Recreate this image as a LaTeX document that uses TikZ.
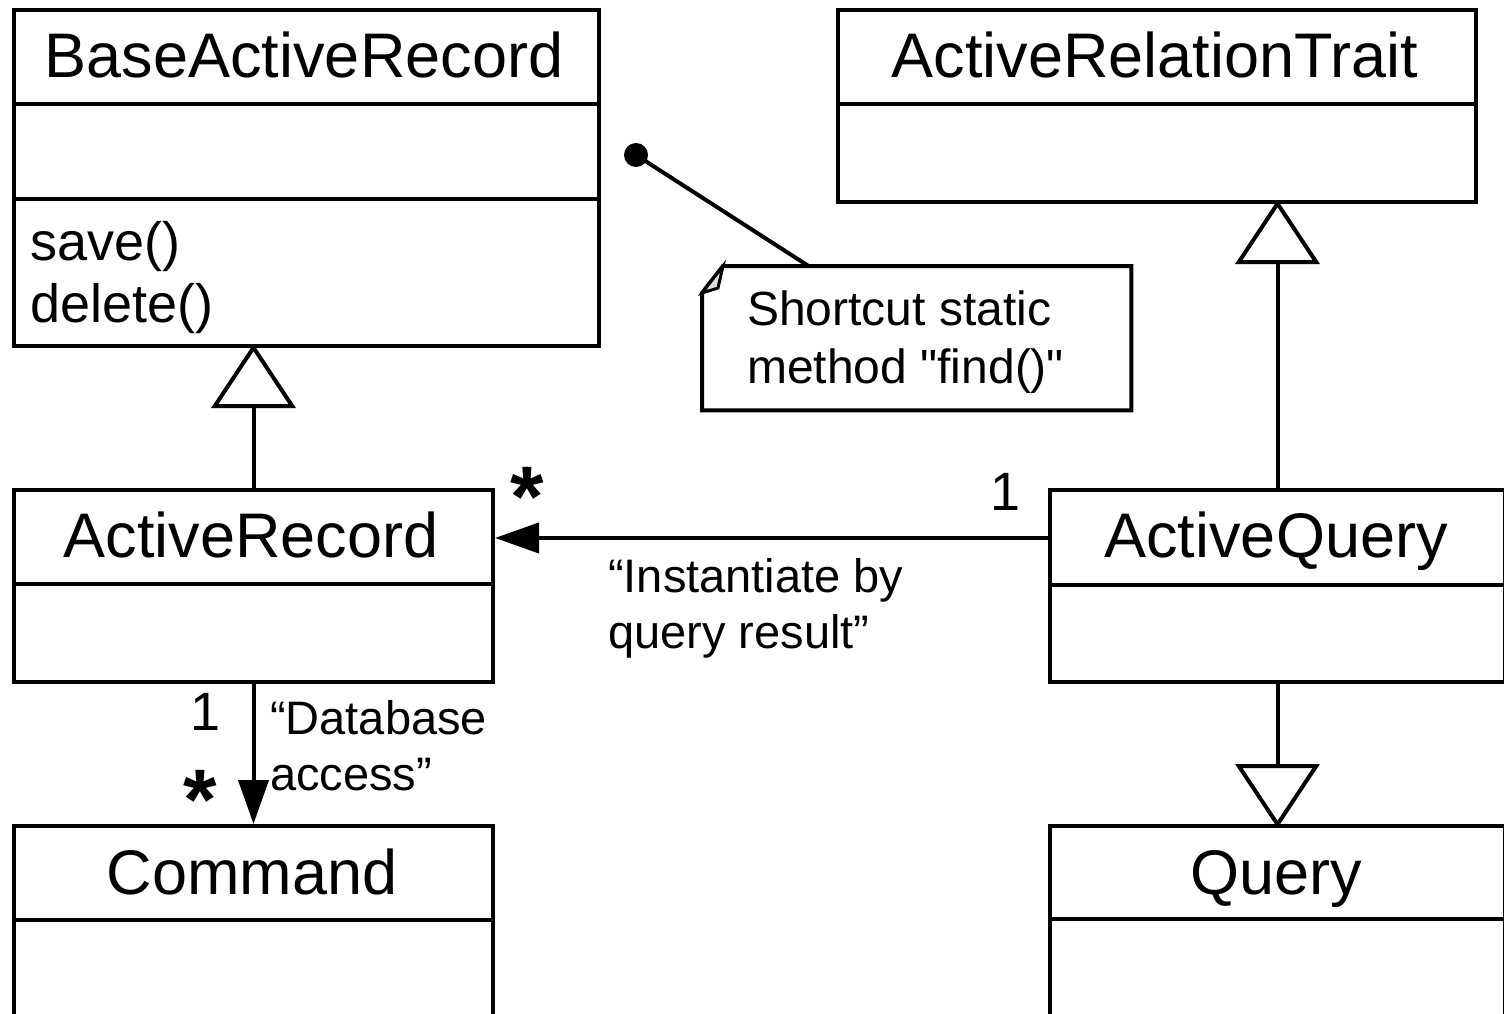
\documentclass[tikz,border=0pt]{standalone}
\usepackage{fontspec}
\setmainfont{Liberation Sans}[Ligatures=TeXOff]
\usetikzlibrary{arrows.meta,calc}
\begin{document}
\begin{tikzpicture}[x=1pt,y=-1pt,
  lw/.style={line width=4pt},
  box/.style={draw, line width=4pt, rectangle, inner sep=0pt, anchor=north west},
  title/.style={font=\fontsize{63}{70}\selectfont, anchor=base, inner sep=0pt},
  member/.style={font=\fontsize{54}{60}\selectfont, anchor=base west, inner sep=0pt},
  lbl/.style={font=\fontsize{47}{52}\selectfont, anchor=base west, inner sep=0pt},
  mult/.style={font=\fontsize{54}{60}\selectfont, anchor=base, inner sep=0pt},
  star/.style={font=\bfseries\fontsize{86}{86}\selectfont, anchor=base, inner sep=0pt},
  gen/.style={line width=4pt, shorten >=-4pt, -{Triangle[open, length=64pt, width=84pt]}},
  assoc/.style={line width=4pt, -{Triangle[length=44pt, width=30pt]}}
]
\path[use as bounding box] (0,0) rectangle (1504,1014);
\clip (0,0) rectangle (1504,1014);

% classes
\node[box, minimum width=585pt, minimum height=336pt] (bar) at (12,8) {};
\draw[lw] (12,104) -- (597,104);
\draw[lw] (12,199) -- (597,199);
\node[title] (bart) at (304,78) {BaseActiveRecord};
\node[member] (save) at (30,260) {save()};
\node[member] (del) at (30,322) {delete()};

\node[box, minimum width=638pt, minimum height=192pt] (art) at (836,8) {};
\draw[lw] (836,104) -- (1474,104);
\node[title] (artt) at (1155,78) {ActiveRelationTrait};

\node[box, minimum width=479pt, minimum height=192pt] (ar) at (12,488) {};
\draw[lw] (12,584) -- (491,584);
\node[title] (art2) at (251,557) {ActiveRecord};

\node[box, minimum width=455pt, minimum height=192pt] (aq) at (1048,488) {};
\draw[lw] (1048,585) -- (1503,585);
\node[title] (aqt) at (1276,557) {ActiveQuery};

\node[box, minimum width=479pt, minimum height=260pt] (cmd) at (12,824) {};
\draw[lw] (12,920) -- (491,920);
\node[title] (cmdt) at (252,894) {Command};

\node[box, minimum width=455pt, minimum height=260pt] (q) at (1048,824) {};
\draw[lw] (1048,919) -- (1503,919);
\node[title] (qt) at (1276,894) {Query};

% note
\node[anchor=north west, minimum width=429pt, minimum height=144pt, inner sep=0pt] (note) at (702,266) {};
\draw[lw, line join=miter] ($(note.north west)+(21,0)$) -- (note.north east) -- (note.south east) -- (note.south west) -- ($(note.north west)+(0,27)$) -- cycle;
\draw[line width=3pt, fill=gray!25] ($(note.north west)+(21,0)$) -- ($(note.north west)+(16,22)$) -- ($(note.north west)+(0,27)$) -- cycle;
\node[lbl, font=\fontsize{48}{52}\selectfont] (n1) at (747,325) {Shortcut static};
\node[lbl, font=\fontsize{48}{52}\selectfont] (n2) at (747,383) {method "find()"};
\node[circle, fill, inner sep=0pt, minimum size=24pt] (dot) at (636,155) {};
\draw[lw] (dot.center) -- ($(note.north west)!0.248!(note.north east)$);

% generalizations
\draw[gen] (ar.north) -- (ar.north |- bar.south);
\draw[gen] (aq.north) -- (aq.north |- art.south);
\draw[gen] (aq.south) -- (q.north);

% associations
\draw[assoc] ($(aq.north west)!0.255!(aq.south west)$) -- ($(ar.north east)!0.255!(ar.south east)$);
\draw[assoc] (ar.south) -- (cmd.north);

% labels
\node[star] (s1) at (527,526) {*};
\node[mult] (m1) at (1006,510) {1};
\node[lbl] (l1) at (608,592) {“Instantiate by};
\node[lbl] (l2) at (608,648) {query result”};
\node[mult] (m2) at (206,730) {1};
\node[star] (s2) at (200,829) {*};
\node[lbl] (l3) at (270,734) {“Database};
\node[lbl] (l4) at (270,790) {access”};
\end{tikzpicture}
\end{document}
